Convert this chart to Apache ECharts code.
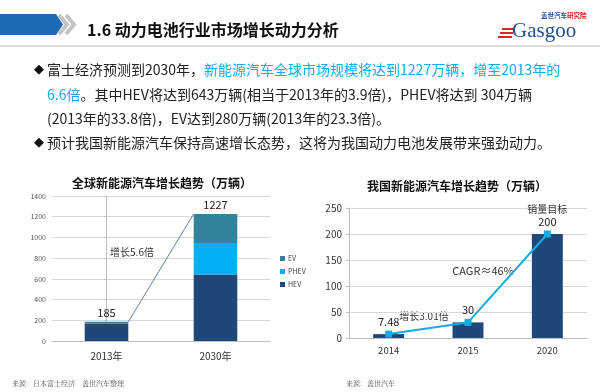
<!DOCTYPE html>
<html><head><meta charset="utf-8">
<script src="https://cdn.jsdelivr.net/npm/echarts@6/dist/echarts.min.js"></script>
<style>html,body{margin:0;padding:0;background:#fff}#c{width:600px;height:392px}</style>
</head><body><div id="c"></div>
<script>
// ---- data ----
var globalCats = ['2013年', '2030年'];
var hevVals = [164, 643];
var phevVals = [9, 304];
var evVals = [12, 280];
var globalTotals = [185, 1227];
var globalTicks = [0, 200, 400, 600, 800, 1000, 1200, 1400];

var chinaCats = ['2014', '2015', '2020'];
var chinaVals = [7.48, 30, 200];
var chinaNotes = ['', '', '销量目标'];

var F = '"Noto Sans CJK SC","Noto Sans",sans-serif';
var BLUE = '#14aae6';
var chart = echarts.init(document.getElementById('c'), null, {renderer: 'canvas'});

var graphics = [
  // header tab
  {type:'polygon', shape:{points:[[0,14],[56,14],[63,24.5],[56,35],[0,35]]}, style:{fill:'#1c69b3'}},
  {type:'polyline', shape:{points:[[59,15],[67,24.5],[59,34]]}, style:{stroke:'#c4c4c4', lineWidth:4, fill:null}},
  {type:'polyline', shape:{points:[[66,15],[74,24.5],[66,34]]}, style:{stroke:'#c4c4c4', lineWidth:4, fill:null}},
  {type:'rect', shape:{x:0,y:45,width:600,height:2}, style:{fill:'#dcdcdc'}},
  {type:'text', x:87, y:30, style:{text:'1.6 动力电池行业市场增长动力分析', font:'bold 16px '+F, fill:'#111', textVerticalAlign:'middle'}},
  // logo
  {type:'text', x:541, y:16, style:{rich:{a:{fill:'#1e4f91',font:'bold 6.5px '+F},b:{fill:'#d22',font:'bold 6.5px '+F}}, text:'{a|盖世汽车}{b|研究院}', textVerticalAlign:'middle'}},
  {type:'rect', shape:{x:502,y:28,width:12,height:2}, style:{fill:'#d82828'}},
  {type:'rect', shape:{x:500,y:32,width:13,height:2}, style:{fill:'#d82828'}},
  {type:'rect', shape:{x:498,y:36,width:14,height:2}, style:{fill:'#d82828'}},
  {type:'text', x:512, y:31, style:{text:'Gasgoo', font:'21px "Liberation Serif","DejaVu Serif",serif', fill:'#1e4f91', textVerticalAlign:'middle'}},
  // bullets
  {type:'text', x:34, y:70, style:{text:'◆', font:'13px "DejaVu Sans",sans-serif', fill:'#111', textVerticalAlign:'middle'}},
  {type:'text', x:47, y:70, style:{rich:{k:{fill:'#222',font:'14px '+F},b:{fill:BLUE,font:'14px '+F}}, text:'{k|富士经济预测到2030年，}{b|新能源汽车全球市场规模将达到1227万辆，增至2013年的}', textVerticalAlign:'middle'}},
  {type:'text', x:47, y:95, style:{rich:{k:{fill:'#222',font:'14px '+F},b:{fill:BLUE,font:'14px '+F}}, text:'{b|6.6倍}{k|。其中HEV将达到643万辆(相当于2013年的3.9倍)，PHEV将达到 304万辆}', textVerticalAlign:'middle'}},
  {type:'text', x:47, y:119, style:{text:'(2013年的33.8倍)，EV达到280万辆(2013年的23.3倍)。', font:'14px '+F, fill:'#222', textVerticalAlign:'middle'}},
  {type:'text', x:34, y:143, style:{text:'◆', font:'13px "DejaVu Sans",sans-serif', fill:'#111', textVerticalAlign:'middle'}},
  {type:'text', x:47, y:143, style:{text:'预计我国新能源汽车保持高速增长态势，这将为我国动力电池发展带来强劲动力。', font:'14px '+F, fill:'#222', textVerticalAlign:'middle'}},
  // chart titles
  {type:'text', x:162, y:183, style:{text:'全球新能源汽车增长趋势（万辆）', font:'bold 12px '+F, fill:'#111', textAlign:'center', textVerticalAlign:'middle'}},
  {type:'text', x:457, y:186, style:{text:'我国新能源汽车增长趋势（万辆）', font:'bold 12px '+F, fill:'#111', textAlign:'center', textVerticalAlign:'middle'}},
  // annotations
  {type:'text', x:132, y:252, style:{text:'增长5.6倍', font:'10px '+F, fill:'#333', textAlign:'center', textVerticalAlign:'middle'}},
  {type:'text', x:483, y:271, style:{text:'CAGR≈46%', font:'11px '+F, fill:'#333', textAlign:'center', textVerticalAlign:'middle'}},
  {type:'text', x:424, y:316, style:{text:'增长3.01倍', font:'10px '+F, fill:'#333', textAlign:'center', textVerticalAlign:'middle'}},
  // sources
  {type:'text', x:12, y:383, style:{text:'来源：日本富士经济　盖世汽车整理', font:'7px "Noto Serif CJK SC","Noto Sans CJK SC",serif', fill:'#555', textVerticalAlign:'middle'}},
  {type:'text', x:346, y:383, style:{text:'来源：盖世汽车', font:'7px "Noto Serif CJK SC","Noto Sans CJK SC",serif', fill:'#555', textVerticalAlign:'middle'}}
];

var option = {
  animation: false,
  textStyle: {fontFamily: F},
  legend: {
    data: ['EV', 'PHEV', 'HEV'], orient: 'vertical', left: 275, top: 250,
    itemWidth: 5, itemHeight: 5, itemGap: 6, icon: 'rect',
    textStyle: {fontSize: 7, color: '#444', padding: [0, 0, 0, -2]}
  },
  grid: [
    {left: 52, right: 330, top: 196, bottom: 51},
    {left: 349, right: 13, top: 208, bottom: 54}
  ],
  xAxis: [
    {type: 'category', gridIndex: 0, data: globalCats,
     axisLine: {lineStyle: {color: '#bfbfbf'}}, axisTick: {show: false},
     axisLabel: {fontSize: 10, color: '#333', margin: 10}},
    {type: 'value', gridIndex: 0, min: -0.5, max: 1.5, show: false},
    {type: 'category', gridIndex: 1, data: chinaCats,
     axisLine: {lineStyle: {color: '#bfbfbf'}}, axisTick: {show: false},
     axisLabel: {fontSize: 9.5, color: '#333', margin: 8}}
  ],
  yAxis: [
    {type: 'value', gridIndex: 0, min: globalTicks[0], max: globalTicks[globalTicks.length - 1], interval: 200,
     axisLine: {show: true, lineStyle: {color: '#bfbfbf'}}, axisTick: {show: true, length: 3, lineStyle: {color: '#bfbfbf'}},
     axisLabel: {fontSize: 7, color: '#555', margin: 6, formatter: function (v) { return String(v); }},
     splitLine: {lineStyle: {color: '#d9d9d9'}}},
    {type: 'value', gridIndex: 1, min: 0, max: 250, interval: 50,
     axisLine: {show: true, lineStyle: {color: '#bfbfbf'}}, axisTick: {show: true, length: 3, lineStyle: {color: '#bfbfbf'}},
     axisLabel: {fontSize: 10, color: '#333', margin: 7},
     splitLine: {lineStyle: {color: '#d9d9d9'}}}
  ],
  series: [
    {name: 'HEV', type: 'bar', stack: 'g', xAxisIndex: 0, yAxisIndex: 0, data: hevVals, barWidth: '40%',
     itemStyle: {color: '#1f4778'}},
    {name: 'PHEV', type: 'bar', stack: 'g', xAxisIndex: 0, yAxisIndex: 0, data: phevVals, barWidth: '40%',
     itemStyle: {color: '#00b0f0'}},
    {name: 'EV', type: 'bar', stack: 'g', xAxisIndex: 0, yAxisIndex: 0, data: evVals, barWidth: '40%',
     itemStyle: {color: '#31849b'},
     label: {show: true, position: 'top', distance: 4, fontSize: 11, color: '#222',
       formatter: function (p) { return String(globalTotals[p.dataIndex]); }}},
    {name: 'conn', type: 'line', xAxisIndex: 1, yAxisIndex: 0,
     data: [[0.2, globalTotals[0]], [0.8, globalTotals[1]]],
     symbol: 'none', lineStyle: {color: '#5a7fb5', width: 1}, z: 5, silent: true},
    {name: 'china', type: 'bar', xAxisIndex: 2, yAxisIndex: 1, data: chinaVals, barWidth: '39%',
     itemStyle: {color: '#1f4778'}},
    {name: 'chinaLine', type: 'line', xAxisIndex: 2, yAxisIndex: 1, data: chinaVals,
     symbol: 'rect', symbolSize: 7, itemStyle: {color: BLUE}, lineStyle: {color: BLUE, width: 2}, z: 5,
     label: {show: true, position: 'top', distance: 3, fontSize: 11, color: '#222', lineHeight: 12,
       formatter: function (p) {
         var n = chinaNotes[p.dataIndex];
         return (n ? '{n|' + n + '}\n' : '') + p.value;
       },
       rich: {n: {fontSize: 10, color: '#333', lineHeight: 12}}}}
  ],
  graphic: graphics
};
chart.setOption(option);
</script></body></html>
